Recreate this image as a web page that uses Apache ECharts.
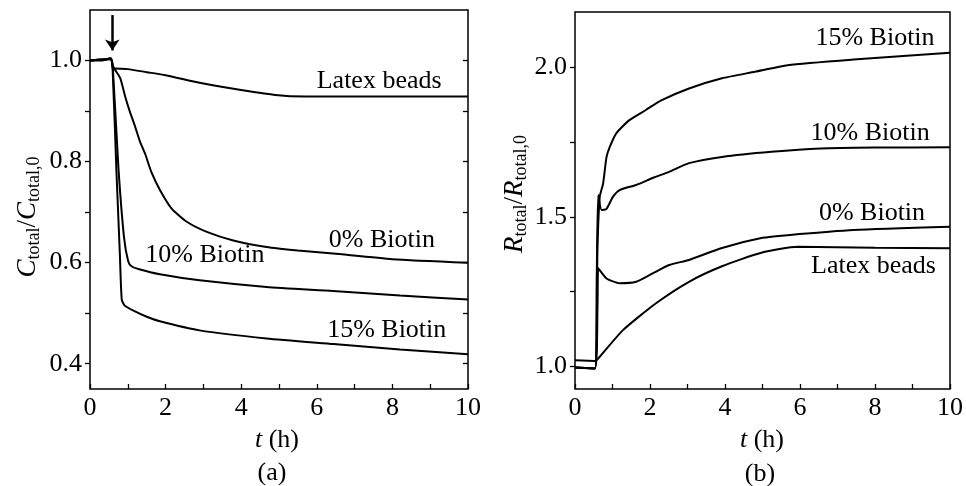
<!DOCTYPE html>
<html><head><meta charset="utf-8">
<script src="https://cdn.jsdelivr.net/npm/echarts@6/dist/echarts.min.js"></script>
<style>html,body{margin:0;padding:0;background:#fff}#c{width:966px;height:486px}</style>
</head><body><div id="c"></div>
<script>
// ---------- Panel (a): C_total / C_total,0 ----------
const aLatexT = [0, 0.3, 0.55, 0.6, 0.66, 1.0, 1.5, 2.0, 2.9, 3.8, 4.9, 5.7, 7, 8.5, 10];
const aLatexV = [1.0, 1.0, 1.005, 0.986, 0.984, 0.983, 0.977, 0.971, 0.956, 0.944, 0.932, 0.929, 0.929, 0.929, 0.929];
const aB0T = [0, 0.55, 0.6, 0.66, 0.8, 0.93, 1.05, 1.19, 1.32, 1.46, 1.63, 1.85, 2.16, 2.56, 3.09, 3.79, 4.67, 5.5, 6.43, 8.0, 10];
const aB0V = [1.0, 1.003, 0.99, 0.982, 0.965, 0.929, 0.90, 0.87, 0.84, 0.815, 0.778, 0.744, 0.707, 0.681, 0.661, 0.644, 0.631, 0.624, 0.618, 0.607, 0.600];
const aB10T = [0, 0.55, 0.6, 0.75, 0.9, 1.01, 1.1, 1.3, 1.85, 2.9, 4.67, 6.43, 8.2, 10];
const aB10V = [1.0, 1.003, 0.99, 0.79, 0.65, 0.603, 0.593, 0.587, 0.577, 0.565, 0.552, 0.544, 0.535, 0.527];
const aB15T = [0, 0.55, 0.6, 0.7, 0.79, 0.84, 0.92, 1.15, 1.5, 1.85, 2.9, 4.67, 6.44, 8.2, 10];
const aB15V = [1.0, 1.003, 0.98, 0.78, 0.617, 0.527, 0.515, 0.505, 0.493, 0.484, 0.466, 0.450, 0.439, 0.428, 0.419];
const aArrow = [[0.59, 1.09], [0.59, 1.02]];
const aYTicks = [0.4, 0.5, 0.6, 0.7, 0.8, 0.9, 1.0];
const aYLabels = [0.4, 0.6, 0.8, 1.0];
const aTexts = [['Latex beads', 7.65, 0.959], ['0% Biotin', 7.72, 0.6445], ['10% Biotin', 3.04, 0.615], ['15% Biotin', 7.85, 0.4657]];

// ---------- Panel (b): R_total / R_total,0 ----------
const bLatexT = [0, 0.53, 0.57, 0.66, 1.28, 2.16, 3.04, 3.92, 4.97, 5.94, 8, 10];
const bLatexV = [1.02, 1.018, 1.02, 1.032, 1.121, 1.211, 1.283, 1.335, 1.38, 1.40, 1.397, 1.395];
const bB0T = [0, 0.53, 0.6, 0.62, 0.84, 1.19, 1.63, 2.07, 2.51, 3.04, 3.92, 5.0, 5.67, 7.43, 10];
const bB0V = [0.996, 0.993, 1.2, 1.328, 1.294, 1.278, 1.283, 1.311, 1.339, 1.356, 1.396, 1.43, 1.439, 1.456, 1.467];
const bB10T = [0, 0.53, 0.58, 0.62, 0.71, 0.84, 1.01, 1.19, 1.63, 2.1, 2.51, 3.04, 3.92, 5.24, 6.55, 8.0, 10];
const bB10V = [0.996, 0.993, 1.3, 1.573, 1.523, 1.527, 1.567, 1.59, 1.607, 1.632, 1.651, 1.68, 1.701, 1.718, 1.729, 1.732, 1.733];
const bB15T = [0, 0.53, 0.6, 0.66, 0.75, 0.84, 0.93, 1.1, 1.45, 1.89, 2.3, 3.04, 3.92, 4.8, 5.67, 7.43, 10];
const bB15V = [0.996, 0.993, 1.4, 1.567, 1.612, 1.70, 1.735, 1.78, 1.824, 1.858, 1.89, 1.93, 1.964, 1.986, 2.008, 2.027, 2.05];
const bYTicks = [1.0, 1.25, 1.5, 1.75, 2.0];
const bYLabels = [1.0, 1.5, 2.0];
const bTexts = [['15% Biotin', 8.0, 2.098], ['10% Biotin', 7.87, 1.78], ['0% Biotin', 7.92, 1.512], ['Latex beads', 7.96, 1.3355]];

const xTicks = [0, 1, 2, 3, 4, 5, 6, 7, 8, 9, 10];
const xLabels = [0, 2, 4, 6, 8, 10];

const FONT = '"Liberation Serif","Times New Roman",Times,serif';
const zip = (t, v) => t.map((x, i) => [x, v[i]]);
function ser(t, v, gi, yi, extra) {
  return Object.assign({
    type: 'line', data: zip(t, v), xAxisIndex: gi, yAxisIndex: yi,
    symbol: 'none', showSymbol: false, silent: true, z: 3,
    smooth: 0.2,
    lineStyle: { color: '#000', width: 2 }
  }, extra || {});
}
const tickStyle = { color: '#000', width: 1.3 };
function xAx(gi) {
  return {
    gridIndex: gi, type: 'value', min: 0, max: 10, interval: 1,
    axisLine: { show: false },
    axisTick: { show: true, inside: true, length: 5, lineStyle: tickStyle, customValues: xTicks },
    axisLabel: { customValues: xLabels, formatter: v => String(Math.round(v)), fontFamily: FONT, fontSize: 26, color: '#000', margin: 6, showMinLabel: true, showMaxLabel: true },
    splitLine: { show: false }
  };
}
function yAx(gi, min, max, ticks, labels, pos, showLab, inside) {
  return {
    gridIndex: gi, type: 'value', min: min, max: max, position: pos,
    axisLine: { show: false },
    axisTick: { show: true, inside: inside, length: 5, lineStyle: tickStyle, customValues: ticks },
    axisLabel: { show: showLab, customValues: labels, formatter: v => v.toFixed(1), fontFamily: FONT, fontSize: 26, color: '#000', margin: 8, showMinLabel: true, showMaxLabel: true },
    splitLine: { show: false }
  };
}

const chart = echarts.init(document.getElementById('c'), null, { renderer: 'canvas' });
const gridBase = { show: true, borderColor: '#000', borderWidth: 1.5, backgroundColor: 'transparent', containLabel: false };
chart.setOption({
  animation: false,
  backgroundColor: '#fff',
  grid: [
    Object.assign({ left: 90, top: 10, width: 378, height: 379 }, gridBase),
    Object.assign({ left: 575, top: 12, width: 378, height: 377 }, gridBase)
  ],
  xAxis: [xAx(0), xAx(1)],
  yAxis: [
    yAx(0, 0.35, 1.1, aYTicks, aYLabels, 'left', true, false),
    yAx(0, 0.35, 1.1, aYTicks, aYLabels, 'right', false, true),
    yAx(1, 0.924, 2.186, bYTicks, bYLabels, 'left', true, false)
  ],
  series: [
    ser(aLatexT, aLatexV, 0, 0, {
      markLine: {
        silent: true, symbol: ['none', 'arrow'], symbolSize: 11,
        lineStyle: { color: '#000', width: 2.5, type: 'solid' }, label: { show: false },
        data: [[{ coord: aArrow[0] }, { coord: aArrow[1] }]]
      }
    }),
    ser(aB0T, aB0V, 0, 0),
    ser(aB10T, aB10V, 0, 0),
    ser(aB15T, aB15V, 0, 0),
    ser(bLatexT, bLatexV, 1, 2),
    ser(bB0T, bB0V, 1, 2),
    ser(bB10T, bB10V, 1, 2),
    ser(bB15T, bB15V, 1, 2)
  ]
});

// ---------- text annotations ----------
const mctx = document.createElement('canvas').getContext('2d');
function measure(txt, size, italic) {
  mctx.font = (italic ? 'italic ' : '') + size + 'px ' + FONT;
  return mctx.measureText(txt).width;
}
function richGroup(cx, cy, parts, rot) {
  let w = 0;
  parts.forEach(p => { p.w = measure(p.t, p.s, p.i); w += p.w; });
  let x = -w / 2;
  const children = parts.map(p => {
    const el = { type: 'text', x: x, y: p.dy || 0, style: { text: p.t, fontFamily: FONT, fontSize: p.s, fontStyle: p.i ? 'italic' : 'normal', fill: '#000', textAlign: 'left', textVerticalAlign: 'middle' } };
    x += p.w;
    return el;
  });
  return { type: 'group', x: cx, y: cy, rotation: rot || 0, children: children, silent: true };
}
const graphics = [];
aTexts.forEach(([s, t, v]) => {
  const p = chart.convertToPixel({ gridIndex: 0 }, [t, v]);
  graphics.push({ type: 'text', x: p[0], y: p[1], silent: true, style: { text: s, fontFamily: FONT, fontSize: 26, fill: '#000', textAlign: 'center', textVerticalAlign: 'middle' } });
});
bTexts.forEach(([s, t, v]) => {
  const p = chart.convertToPixel({ xAxisIndex: 1, yAxisIndex: 2 }, [t, v]);
  graphics.push({ type: 'text', x: p[0], y: p[1], silent: true, style: { text: s, fontFamily: FONT, fontSize: 26, fill: '#000', textAlign: 'center', textVerticalAlign: 'middle' } });
});
const SUB = 6;
graphics.push(richGroup(28, 217, [
  { t: 'C', s: 27, i: true }, { t: 'total', s: 18, dy: SUB }, { t: '/', s: 27 },
  { t: 'C', s: 27, i: true }, { t: 'total,0', s: 18, dy: SUB }
], Math.PI / 2));
graphics.push(richGroup(515, 194, [
  { t: 'R', s: 27, i: true }, { t: 'total', s: 18, dy: SUB }, { t: '/', s: 27 },
  { t: 'R', s: 27, i: true }, { t: 'total,0', s: 18, dy: SUB }
], Math.PI / 2));
graphics.push(richGroup(277, 440, [{ t: 't', s: 26, i: true }, { t: ' (h)', s: 26 }]));
graphics.push(richGroup(762, 440, [{ t: 't', s: 26, i: true }, { t: ' (h)', s: 26 }]));
graphics.push({ type: 'text', x: 272, y: 473, silent: true, style: { text: '(a)', fontFamily: FONT, fontSize: 26, fill: '#000', textAlign: 'center', textVerticalAlign: 'middle' } });
graphics.push({ type: 'text', x: 760, y: 474, silent: true, style: { text: '(b)', fontFamily: FONT, fontSize: 26, fill: '#000', textAlign: 'center', textVerticalAlign: 'middle' } });
chart.setOption({ graphic: graphics });
</script>
</body></html>
